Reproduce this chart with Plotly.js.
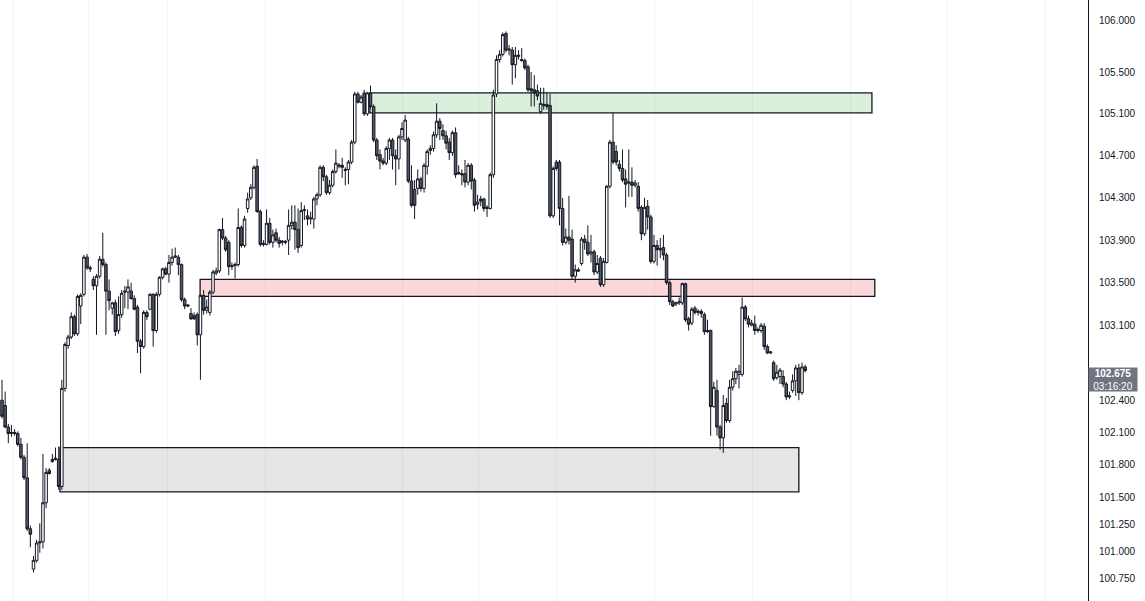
<!DOCTYPE html>
<html><head><meta charset="utf-8">
<script src="https://cdn.plot.ly/plotly-3.0.1.min.js"></script>
<style>html,body{margin:0;padding:0;background:#fff;overflow:hidden}#chart{width:1145px;height:601px}</style>
</head><body><div id="chart"></div>
<script>
const openP = [102.40,102.35,102.15,102.09,102.10,102.09,101.99,101.87,101.68,101.21,100.84,100.92,101.08,101.09,101.45,101.75,101.83,101.85,101.85,101.60,
102.51,102.91,102.99,103.18,103.02,103.28,103.39,103.74,103.64,103.53,103.47,103.56,103.72,103.67,103.42,103.26,103.31,103.05,103.20,103.41,
103.41,103.42,103.35,103.27,102.95,102.90,103.22,103.25,103.39,103.05,103.39,103.55,103.63,103.58,103.69,103.74,103.74,103.67,103.34,103.29,
103.21,103.19,103.20,103.01,103.38,103.24,103.22,103.41,103.59,103.61,104.00,103.92,103.88,103.65,103.66,103.67,104.02,103.85,104.20,104.30,
104.40,104.60,104.17,103.87,103.86,104.06,103.88,103.97,103.90,103.88,103.89,103.90,104.04,104.07,104.00,103.85,104.18,104.13,104.10,104.10,
104.29,104.33,104.59,104.50,104.35,104.42,104.55,104.60,104.61,104.56,104.57,104.64,104.83,105.29,105.21,105.30,105.10,105.30,105.17,104.85,
104.71,104.65,104.63,104.77,104.85,104.70,104.67,104.88,104.85,104.86,104.46,104.38,104.39,104.48,104.39,104.60,104.75,104.77,104.90,105.03,
104.94,104.89,104.83,104.73,104.92,104.54,104.53,104.53,104.45,104.61,104.47,104.24,104.29,104.29,104.20,104.20,104.52,105.29,105.62,105.67,
105.87,105.71,105.71,105.57,105.65,105.62,105.61,105.55,105.34,105.33,105.32,105.12,105.18,105.17,105.18,104.13,104.64,104.64,104.20,103.88,
103.93,103.91,103.56,103.62,103.68,103.91,103.88,103.77,103.79,103.60,103.73,103.48,103.69,104.41,104.83,104.74,104.62,104.58,104.48,104.44,
104.45,104.42,104.41,104.21,103.96,104.22,104.12,103.70,103.85,103.82,103.83,103.76,103.50,103.32,103.30,103.31,103.31,103.49,103.16,103.12,
103.26,103.22,103.23,103.20,103.05,103.05,102.34,102.49,102.15,102.05,102.37,102.21,102.52,102.60,102.64,102.64,103.27,103.16,103.10,103.11,
103.06,103.05,103.09,102.90,102.84,102.75,102.61,102.62,102.62,102.55,102.43,102.49,102.58,102.70,102.47,102.71];
const highP = [102.59,102.48,102.18,102.17,102.13,102.11,102.05,101.89,102.00,101.24,100.96,101.11,101.26,101.90,101.77,101.77,101.90,101.96,101.97,102.59,
102.94,103.01,103.22,103.20,103.39,103.40,103.76,103.77,103.66,103.56,103.58,103.75,103.97,103.69,103.53,103.32,103.34,103.37,103.43,103.47,
103.53,103.50,103.38,103.29,102.97,103.24,103.24,103.40,103.40,103.41,103.56,103.64,103.65,103.76,103.82,103.83,103.76,103.68,103.36,103.30,
103.26,103.22,103.22,103.39,103.43,103.34,103.43,103.62,103.64,104.01,104.11,103.94,103.90,103.69,103.69,104.20,104.04,104.13,104.35,104.43,
104.61,104.67,104.19,103.90,104.19,104.11,104.00,104.01,103.93,103.90,103.90,104.19,104.23,104.23,104.20,104.26,104.23,104.19,104.17,104.31,
104.35,104.61,104.61,104.52,104.47,104.57,104.76,104.63,104.68,104.59,104.66,104.85,105.31,105.31,105.28,105.33,105.31,105.37,105.19,104.87,
104.76,104.68,104.79,104.87,104.87,104.76,104.90,105.02,105.09,104.88,104.61,104.47,104.57,104.50,104.63,104.76,104.80,104.93,105.20,105.06,
105.00,104.94,104.87,104.94,104.97,104.61,104.57,104.66,104.63,104.63,104.49,104.33,104.32,104.30,104.23,104.54,105.33,105.66,105.71,105.88,
105.89,105.76,105.74,105.74,105.71,105.73,105.63,105.57,105.50,105.47,105.38,105.35,105.35,105.30,105.29,104.60,104.66,104.66,104.30,104.01,
104.32,104.00,103.67,103.64,103.93,103.95,104.04,103.95,103.81,103.76,103.75,103.73,104.42,104.85,105.11,104.80,104.66,104.76,104.57,104.76,
104.59,104.47,104.45,104.23,104.30,104.28,104.14,103.95,103.90,103.92,103.95,103.78,103.52,103.34,103.32,103.36,103.50,103.50,103.18,103.27,
103.28,103.25,103.25,103.22,103.15,103.06,102.57,102.59,102.17,102.45,102.42,102.59,102.67,102.70,102.73,103.36,103.29,103.19,103.15,103.19,
103.08,103.12,103.12,102.92,102.86,102.77,102.73,102.70,102.68,102.57,102.48,102.64,102.73,102.74,102.75,102.73];
const lowP = [102.23,102.14,102.00,102.06,102.07,101.97,101.85,101.66,101.19,101.04,100.81,100.90,100.99,101.03,101.40,101.71,101.82,101.84,101.57,101.57,
102.48,102.88,102.97,103.00,103.00,103.11,103.37,103.62,103.60,103.43,103.01,103.54,103.65,103.01,103.24,103.20,103.00,103.02,103.17,103.26,
103.25,103.34,103.24,102.84,102.65,102.88,103.15,103.24,102.90,103.03,103.37,103.53,103.57,103.50,103.66,103.73,103.57,103.32,103.25,103.27,
103.15,103.15,102.91,102.59,103.20,103.21,103.19,103.39,103.57,103.59,103.90,103.79,103.57,103.62,103.54,103.65,103.83,103.83,104.16,104.28,
104.38,104.16,103.84,103.84,103.85,103.86,103.83,103.88,103.83,103.85,103.86,103.76,104.00,103.81,103.78,103.83,104.09,104.04,104.05,104.01,
104.23,104.31,104.46,104.33,104.33,104.40,104.53,104.58,104.49,104.42,104.43,104.62,104.81,105.20,105.20,105.08,105.08,105.15,104.83,104.66,
104.57,104.61,104.61,104.66,104.57,104.42,104.57,104.85,104.83,104.44,104.21,104.10,104.33,104.36,104.35,104.52,104.71,104.74,104.87,104.85,
104.85,104.76,104.66,104.70,104.49,104.52,104.42,104.40,104.42,104.38,104.17,104.19,104.22,104.17,104.12,104.19,104.49,105.26,105.59,105.65,
105.69,105.66,105.38,105.44,105.62,105.60,105.52,105.31,105.17,105.17,105.23,105.10,105.14,105.14,104.11,104.11,104.56,104.04,103.85,103.86,
103.86,103.53,103.50,103.60,103.66,103.81,103.75,103.69,103.57,103.58,103.46,103.46,103.68,104.39,104.62,104.61,104.55,104.45,104.21,104.31,
104.31,104.40,104.17,103.90,103.94,104.00,103.68,103.68,103.66,103.73,103.71,103.48,103.29,103.27,103.28,103.29,103.29,103.13,103.05,103.10,
103.20,103.19,103.17,103.01,103.03,102.07,102.33,102.07,101.94,101.91,102.19,102.19,102.49,102.55,102.51,102.62,103.14,103.08,103.09,103.01,
103.03,103.03,102.87,102.83,102.83,102.58,102.59,102.55,102.52,102.40,102.41,102.47,102.44,102.40,102.45,102.66];
const closeP = [102.25,102.15,102.09,102.10,102.09,101.99,101.87,101.68,101.21,101.16,100.92,101.08,101.09,101.45,101.73,101.72,101.85,101.86,101.60,102.51,
102.92,102.99,103.18,103.02,103.37,103.38,103.74,103.64,103.63,103.47,103.56,103.72,103.67,103.42,103.33,103.31,103.04,103.20,103.40,103.42,
103.46,103.35,103.25,102.95,102.90,103.22,103.18,103.39,103.05,103.39,103.55,103.63,103.58,103.69,103.74,103.75,103.67,103.34,103.28,103.28,
103.16,103.16,103.01,103.38,103.24,103.27,103.41,103.60,103.61,104.00,103.92,103.81,103.65,103.66,103.67,104.02,103.85,104.10,104.29,104.40,
104.59,104.17,103.86,103.86,104.06,103.88,103.95,103.90,103.87,103.89,103.88,104.04,104.07,104.00,103.83,104.18,104.19,104.10,104.11,104.29,
104.33,104.59,104.50,104.35,104.42,104.55,104.63,104.61,104.59,104.57,104.64,104.83,105.29,105.21,105.26,105.10,105.30,105.17,104.85,104.70,
104.65,104.63,104.77,104.85,104.70,104.67,104.88,104.96,105.04,104.46,104.23,104.23,104.48,104.39,104.61,104.74,104.77,104.90,105.03,104.96,
104.89,104.82,104.73,104.92,104.52,104.53,104.52,104.45,104.61,104.46,104.23,104.26,104.27,104.20,104.21,104.52,105.28,105.62,105.67,105.86,
105.71,105.72,105.57,105.66,105.66,105.61,105.54,105.33,105.32,105.30,105.27,105.20,105.19,105.19,104.13,104.58,104.58,104.20,103.88,103.93,
103.90,103.56,103.62,103.61,103.91,103.88,103.77,103.79,103.60,103.68,103.48,103.70,104.41,104.83,104.64,104.64,104.58,104.47,104.43,104.45,
104.42,104.44,104.20,103.96,104.21,104.12,103.70,103.85,103.81,103.81,103.76,103.50,103.32,103.28,103.31,103.32,103.49,103.15,103.11,103.25,
103.22,103.23,103.21,103.04,103.04,102.34,102.52,102.15,102.05,102.35,102.21,102.52,102.60,102.67,102.67,103.27,103.16,103.11,103.12,103.05,
103.05,103.10,102.90,102.84,102.85,102.60,102.66,102.68,102.55,102.43,102.44,102.58,102.70,102.47,102.71,102.675];

const priceTicks = [100.75,101.0,101.25,101.5,101.8,102.1,102.4,103.1,103.5,103.9,104.3,104.7,105.1,105.5,106.0];
const priceTickLabels = ["100.750","101.000","101.250","101.500","101.800","102.100","102.400","103.100","103.500","103.900","104.300","104.700","105.100","105.500","106.000"];
const sessionBreaks = [3.5,27.6,52.7,83.5,127.3,151.4,176.2,207.3,238.4,269.5,300.3,331.4];

const zoneStart = [116.8, 62.9, 18.4];
const zoneEnd   = [276.2, 277.1, 253.0];
const zoneLow   = [105.11, 103.37, 101.55];
const zoneHigh  = [105.30, 103.53, 101.96];
const countdown = "03:16:20";

const zoneFills = ['rgba(76,175,80,0.2)','rgba(242,54,69,0.2)','rgba(128,128,128,0.2)'];
const bars = openP.map((_, i) => i);
const lastClose = closeP[closeP.length - 1];
const font = 'Liberation Sans, Arial, sans-serif';

const trace = {
  type: 'candlestick', x: bars, open: openP, high: highP, low: lowP, close: closeP,
  line: {width: 1},
  increasing: {line: {color: '#131722', width: 1}, fillcolor: '#ffffff'},
  decreasing: {line: {color: '#131722', width: 1}, fillcolor: '#545764'},
  whiskerwidth: 0, hoverinfo: 'skip', showlegend: false
};

const shapes = zoneStart.map((s, i) => ({
  type: 'rect', xref: 'x', yref: 'y', x0: s, x1: zoneEnd[i], y0: zoneLow[i], y1: zoneHigh[i],
  fillcolor: zoneFills[i], line: {color: '#131722', width: 1.3}, layer: 'between'
}));

const layout = {
  width: 1145, height: 601,
  margin: {l: 0, r: 57, t: 0, b: 0, pad: 0},
  paper_bgcolor: '#ffffff', plot_bgcolor: '#ffffff',
  showlegend: false,
  boxgap: 0.2, boxgroupgap: 0,
  xaxis: {
    range: [-0.635, 344.8], tickvals: sessionBreaks, showticklabels: false, ticks: '',
    showgrid: true, gridcolor: '#f0f3fa', gridwidth: 1, zeroline: false, showline: false,
    rangeslider: {visible: false}, fixedrange: true
  },
  yaxis: {
    type: 'log', range: [2.002373, 2.026096], side: 'right',
    tickvals: priceTicks, ticktext: priceTickLabels, ticks: '', ticklabelstandoff: 8,
    tickfont: {family: font, size: 10, color: '#131722'},
    showgrid: false, zeroline: false, showline: true, linecolor: '#131722', linewidth: 1,
    fixedrange: true
  },
  shapes: shapes,
  annotations: [{
    xref: 'paper', x: 1, xanchor: 'left', yref: 'y', y: Math.log10(lastClose), yanchor: 'top', yshift: 4,
    text: '<b>' + lastClose.toFixed(3) + '</b><br>' + countdown, showarrow: false,
    bgcolor: '#70747f', font: {family: font, size: 10, color: '#ffffff'},
    width: 48, height: 23, borderpad: 0, align: 'center'
  }]
};

Plotly.newPlot('chart', [trace], layout, {staticPlot: true, displayModeBar: false});
</script>
</body></html>
